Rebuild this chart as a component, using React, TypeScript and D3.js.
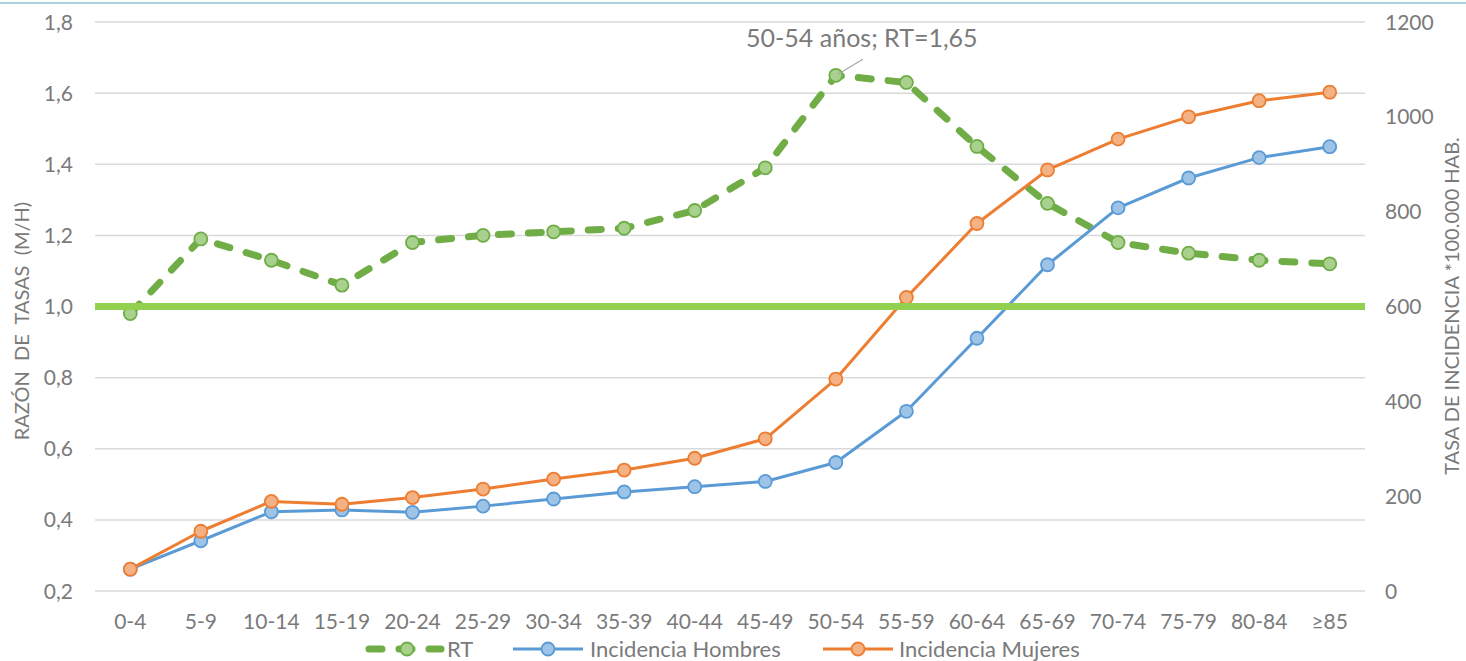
import React from "react";
import * as d3 from "d3";

const categories = ["0-4", "5-9", "10-14", "15-19", "20-24", "25-29", "30-34", "35-39", "40-44", "45-49", "50-54", "55-59", "60-64", "65-69", "70-74", "75-79", "80-84", "≥85"];
const rt = [0.98, 1.19, 1.13, 1.06, 1.18, 1.2, 1.21, 1.22, 1.27, 1.39, 1.65, 1.63, 1.45, 1.29, 1.18, 1.15, 1.13, 1.12];
const hombres = [46, 106, 167, 171, 166, 179, 194, 209, 220, 231, 271, 379, 533, 688, 808, 871, 914, 937];
const mujeres = [46, 126, 189, 183, 197, 215, 236, 255, 280, 321, 447, 619, 775, 888, 953, 1000, 1034, 1052];
const leftTicks = [0.2, 0.4, 0.6, 0.8, 1.0, 1.2, 1.4, 1.6, 1.8];
const rightTicks = [0, 200, 400, 600, 800, 1000, 1200];
const referenceValue = 1.0;
const annotationText = "50-54 años; RT=1,65";
const annotationIndex = 10;

const W = 1466;
const H = 661;
const FONT = "Lato, 'Open Sans', sans-serif";
const TXT = "#7a7a7a";

export default function App() {
  const left = 95, right = 1365, top = 22, bottom = 591;
  const x = d3.scalePoint<string>().domain(categories).range([left, right]).padding(0.5);
  const yL = d3.scaleLinear().domain([0.2, 1.8]).range([bottom, top]);
  const yR = d3.scaleLinear().domain([0, 1200]).range([bottom, top]);

  const lineRT = d3.line<number>().x((_, i) => x(categories[i])!).y((d) => yL(d));
  const lineR = d3.line<number>().x((_, i) => x(categories[i])!).y((d) => yR(d));

  const fmt = (v: number) => v.toFixed(1).replace(".", ",");
  const ax = x(categories[annotationIndex])!;
  const ay = yL(rt[annotationIndex]);

  const legY = 649;

  return (
    <svg width={W} height={H} style={{ position: "absolute", left: 0, top: 0, background: "#fff" }} fontFamily={FONT}>
      <line x1={0} x2={W} y1={3} y2={3} stroke="#a9d3e0" strokeWidth={2} />
      {leftTicks.map((t) => (
        <line key={"g" + t} x1={left} x2={right} y1={yL(t)} y2={yL(t)} stroke="#d9d9d9" strokeWidth={1.5} />
      ))}
      {leftTicks.map((t) => (
        <text key={"l" + t} x={73} y={yL(t)} dy="0.36em" textAnchor="end" fontSize={21} fill={TXT}>{fmt(t)}</text>
      ))}
      {rightTicks.map((t) => (
        <text key={"r" + t} x={1385} y={yR(t)} dy="0.36em" textAnchor="start" fontSize={21} fill={TXT}>{t}</text>
      ))}
      {categories.map((c) => (
        <text key={"x" + c} x={x(c)} y={629} textAnchor="middle" fontSize={21} fill={TXT}>{c}</text>
      ))}
      <text transform={`translate(29,321) rotate(-90)`} textAnchor="middle" fontSize={20} fill={TXT} style={{ whiteSpace: "pre" }}>{"RAZÓN  DE  TASAS  (M/H)"}</text>
      <text transform={`translate(1459,306) rotate(-90)`} textAnchor="middle" fontSize={20} fill={TXT}>TASA DE INCIDENCIA *100.000 HAB.</text>

      {/* RT */}
      <path d={lineRT(rt)!} fill="none" stroke="#70ad47" strokeWidth={7} strokeDasharray="13 17" strokeLinecap="round" strokeLinejoin="round" />
      {rt.map((v, i) => (
        <circle key={"rt" + i} cx={x(categories[i])} cy={yL(v)} r={6.5} fill="#a9d18e" stroke="#70ad47" strokeWidth={1.8} />
      ))}
      {/* Hombres */}
      <path d={lineR(hombres)!} fill="none" stroke="#5b9bd5" strokeWidth={3} strokeLinejoin="round" />
      {hombres.map((v, i) => (
        <circle key={"h" + i} cx={x(categories[i])} cy={yR(v)} r={6.5} fill="#9dc3e6" stroke="#5b9bd5" strokeWidth={1.8} />
      ))}
      {/* Mujeres */}
      <path d={lineR(mujeres)!} fill="none" stroke="#ed7d31" strokeWidth={3} strokeLinejoin="round" />
      {mujeres.map((v, i) => (
        <circle key={"m" + i} cx={x(categories[i])} cy={yR(v)} r={6.5} fill="#f4b183" stroke="#ed7d31" strokeWidth={1.8} />
      ))}
      {/* reference line */}
      <line x1={left} x2={right} y1={yL(referenceValue)} y2={yL(referenceValue)} stroke="#92d050" strokeWidth={7} />

      {/* annotation */}
      <line x1={ax + 27} y1={ay - 16} x2={ax + 2} y2={ay - 1} stroke="#a6a6a6" strokeWidth={1.2} />
      <text x={ax + 26} y={47} textAnchor="middle" fontSize={25} fill={TXT}>{annotationText}</text>

      {/* legend */}
      <line x1={369} x2={441} y1={legY} y2={legY} stroke="#70ad47" strokeWidth={7} strokeDasharray="13 17" strokeLinecap="round" />
      <circle cx={407} cy={legY} r={6.5} fill="#a9d18e" stroke="#70ad47" strokeWidth={1.8} />
      <text x={447} y={legY} dy="0.36em" fontSize={22} fill={TXT}>RT</text>
      <line x1={513} x2={583} y1={legY} y2={legY} stroke="#5b9bd5" strokeWidth={3} />
      <circle cx={548} cy={legY} r={6.5} fill="#9dc3e6" stroke="#5b9bd5" strokeWidth={1.8} />
      <text x={590} y={legY} dy="0.36em" fontSize={22} fill={TXT}>Incidencia Hombres</text>
      <line x1={823} x2={893} y1={legY} y2={legY} stroke="#ed7d31" strokeWidth={3} />
      <circle cx={858} cy={legY} r={6.5} fill="#f4b183" stroke="#ed7d31" strokeWidth={1.8} />
      <text x={899} y={legY} dy="0.36em" fontSize={22} fill={TXT}>Incidencia Mujeres</text>
    </svg>
  );
}
